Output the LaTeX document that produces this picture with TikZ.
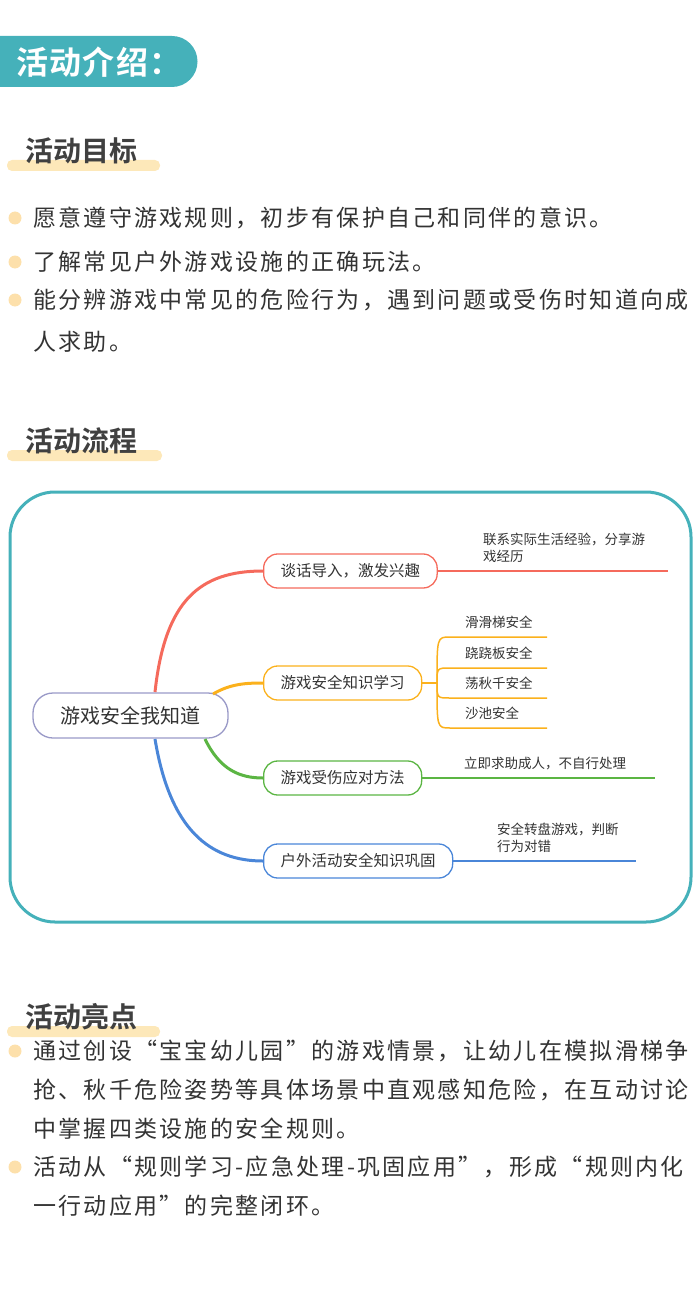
\documentclass[tikz,border=0pt]{standalone}
\usepackage{fontspec}
\setmainfont{Noto Sans CJK SC}[BoldFont=* Bold]
\begin{document}
\begin{tikzpicture}[x=1pt,y=-1pt,
  body/.style={anchor=west,inner sep=0,text=black!80,font=\fontsize{23}{23}\selectfont\addfontfeature{LetterSpace=10}},
  dot/.style={circle,fill=yellow!25!orange!30,inner sep=0,minimum size=13},
  sect/.style={anchor=west,inner sep=0,text=black!75,font=\fontsize{28}{28}\selectfont\bfseries},
  hl/.style={fill=yellow!35!orange!25,rounded corners=5},
  mm/.style={draw,rounded corners=14,line width=1.3,minimum height=34,inner xsep=17,text=black!80,font=\fontsize{15.5}{15.5}\selectfont},
  lab/.style={anchor=west,inner sep=0,text=black!80,font=\fontsize{13.5}{17}\selectfont,align=left}]
\useasboundingbox (0,0) rectangle (700,1289);
\definecolor{teal1}{HTML}{45B1BA}
\definecolor{cr}{HTML}{F56A5C}
\definecolor{co}{HTML}{FBB11C}
\definecolor{cg}{HTML}{5BB543}
\definecolor{cb}{HTML}{4A86D8}
% header
\fill[teal1] (0,36) -- (172,36) arc[start angle=-90,end angle=90,radius=25.5] -- (0,87) -- cycle;
\node[anchor=west,text=white,inner sep=0,font=\fontsize{32}{32}\selectfont\bfseries\addfontfeature{LetterSpace=4}] (hdr) at (16,62) {活动介绍：};
% section 1
\fill[hl] (7,160) rectangle (160,171);
\node[sect] (s1) at (25,151) {活动目标};
\foreach \y/\t in {218/{愿意遵守游戏规则，初步有保护自己和同伴的意识。},262/{了解常见户外游戏设施的正确玩法。},300/{能分辨游戏中常见的危险行为，遇到问题或受伤时知道向成},342/{人求助。}}{
  \node[body] at (33,\y) {\t};}
\foreach \y in {218,262,300}{\node[dot] at (15,\y) {};}
% section 2
\fill[hl] (7,450) rectangle (162,461);
\node[sect] (s2) at (25,441) {活动流程};
\draw[teal1,line width=3] (10,492) [rounded corners=45] rectangle (691,922);
% mindmap
\node[mm,draw=black!55!blue!40,minimum height=45,minimum width=195,rounded corners=20,font=\fontsize{20}{20}\selectfont] (c) at (130.5,715.5) {游戏安全我知道};
\node[mm,draw=cr,anchor=west] (n1) at (263,571) {谈话导入，激发兴趣};
\node[mm,draw=co,anchor=west] (n2) at (263,683) {游戏安全知识学习};
\node[mm,draw=cg,anchor=west] (n3) at (263,778) {游戏受伤应对方法};
\node[mm,draw=cb,anchor=west] (n4) at (263,861) {户外活动安全知识巩固};
\coordinate (e1) at (668,571);
\coordinate (e3) at (655,778);
\coordinate (e4) at (636,861);
\draw[cr,line width=1.5] (n1.east) -- (e1);
\draw[cg,line width=1.2] (n3.east) -- (e3);
\draw[cb,line width=1.2] (n4.east) -- (e4);
\draw[cr,line width=3] (155,692) .. controls (165,600) and (200,571) .. (n1.west);
\draw[co,line width=3] (213,694) .. controls (230,684) and (245,683) .. (n2.west);
\draw[cg,line width=3] (205,739) .. controls (220,770) and (240,778) .. (n3.west);
\draw[cb,line width=3] (155,739) .. controls (170,830) and (210,861) .. (n4.west);
\node[lab] (l1) at (483,548) {联系实际生活经验，分享游\\戏经历};
\node[lab] (l3) at (464,764) {立即求助成人，不自行处理};
\node[lab] (l4) at (497,838) {安全转盘游戏，判断\\行为对错};
\coordinate (b0) at (437,683);
\draw[co,line width=1.5] (n2.east) -- (b0);
\foreach \y/\t in {637/滑滑梯安全,668/跷跷板安全,698/荡秋千安全,728/沙池安全}{
  \draw[co,line width=1.5] (b0) .. controls (437,\y) .. (450,\y) -- (547,\y);
  \node[lab] at (465,\y-15) {\t};}
% section 3
\fill[hl] (7,1026) rectangle (160,1037);
\node[sect] (s3) at (25,1017) {活动亮点};
\foreach \y/\t in {1051/{通过创设“宝宝幼儿园”的游戏情景，让幼儿在模拟滑梯争},1090/{抢、秋千危险姿势等具体场景中直观感知危险，在互动讨论},1129/{中掌握四类设施的安全规则。},1167/{活动从“规则学习-应急处理-巩固应用”，形成“规则内化},1206/{一行动应用”的完整闭环。}}{
  \node[body] at (33,\y) {\t};}
\foreach \y in {1051,1167}{\node[dot] at (15,\y) {};}
\end{tikzpicture}
\end{document}
